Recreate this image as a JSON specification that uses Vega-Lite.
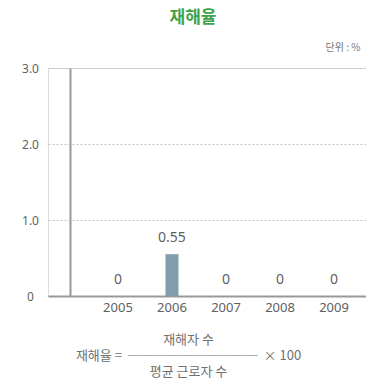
{
  "$schema": "https://vega.github.io/schema/vega-lite/v6.json",
  "width": 356,
  "height": 228,
  "autosize": "none",
  "padding": {"left": 48, "top": 68, "right": 0, "bottom": 86},
  "background": "white",
  "title": {
    "text": "재해율",
    "font": "Noto Sans CJK KR",
    "fontSize": 17,
    "fontWeight": "bold",
    "color": "#3da24c",
    "anchor": "start",
    "dx": 148,
    "offset": 15
  },
  "data": {
    "values": [
      {"year": "2005", "rate": 0},
      {"year": "2006", "rate": 0.55},
      {"year": "2007", "rate": 0},
      {"year": "2008", "rate": 0},
      {"year": "2009", "rate": 0}
    ]
  },
  "encoding": {
    "x": {
      "field": "year",
      "type": "ordinal",
      "scale": {"paddingInner": 0, "paddingOuter": 0.796},
      "axis": {
        "labelAngle": 0,
        "ticks": false,
        "domainColor": "#999999",
        "domainWidth": 2,
        "labelColor": "#5f5f5f",
        "labelFont": "Noto Sans",
        "labelFontSize": 13,
        "labelPadding": 5,
        "title": [
          "\u00a0\u00a0\u00a0재해자 수",
          "재해율 =\u00a0\u00a0──────────\u00a0\u00a0× 100",
          "\u00a0\u00a0평균 근로자 수"
        ],
        "titleFont": "Noto Sans CJK KR",
        "titleFontSize": 13,
        "titleFontWeight": "normal",
        "titleColor": "#707070",
        "titleLineHeight": 16,
        "titleAlign": "center",
        "titleBaseline": "top",
        "titleX": 140,
        "titleY": 37
      }
    },
    "y": {
      "field": "rate",
      "type": "quantitative",
      "scale": {"domain": [0, 3]},
      "axis": {
        "values": [0, 1, 2, 3],
        "labelExpr": "datum.value == 0 ? '0' : format(datum.value, '.1f')",
        "offset": -22,
        "labelPadding": 40,
        "labelAlign": "center",
        "labelColor": "#5f5f5f",
        "labelFont": "Noto Sans",
        "labelFontSize": 12,
        "ticks": false,
        "domainColor": "#999999",
        "domainWidth": 2,
        "grid": true,
        "gridColor": "#c4c4c4",
        "gridDash": [2, 2],
        "gridWidth": 1.2,
        "title": "단위 : %",
        "titleAngle": 0,
        "titleFont": "Noto Sans CJK KR",
        "titleFontSize": 10,
        "titleFontWeight": "normal",
        "titleColor": "#777777",
        "titleAlign": "left",
        "titleBaseline": "middle",
        "titleX": 255,
        "titleY": -21
      }
    }
  },
  "layer": [
    {"mark": {"type": "bar", "size": 13, "color": "#7f9dab"}},
    {
      "mark": {"type": "text", "baseline": "bottom", "dy": -9, "fontSize": 14, "font": "Noto Sans", "color": "#5f5f5f"},
      "encoding": {"text": {"field": "rate", "type": "quantitative"}}
    }
  ]
}
